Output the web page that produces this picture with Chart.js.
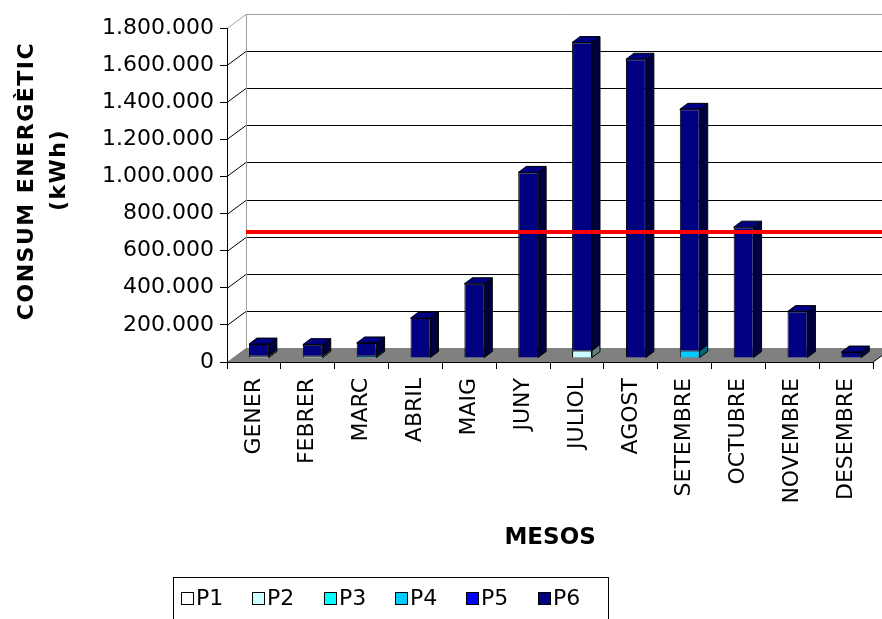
<!DOCTYPE html>
<html>
<head>
<meta charset="utf-8">
<title>Consum energètic mensual</title>
<script src="https://cdn.jsdelivr.net/npm/chart.js@4.4.1/dist/chart.umd.min.js"></script>
<style>
  html, body { margin: 0; padding: 0; background: #ffffff; }
  canvas { display: block; }
</style>
</head>
<body>
<canvas id="consum" width="882" height="619"></canvas>
<script>
// Monthly energy consumption (kWh) split by tariff period P1..P6
const MESOS = ['GENER', 'FEBRER', 'MARC', 'ABRIL', 'MAIG', 'JUNY', 'JULIOL', 'AGOST', 'SETEMBRE', 'OCTUBRE', 'NOVEMBRE', 'DESEMBRE'];
const P1 = [0, 0, 0, 0, 0, 0, 0, 0, 0, 0, 0, 0];
const P2 = [12000, 12000, 0, 0, 0, 0, 40000, 0, 0, 0, 0, 0];
const P3 = [0, 0, 0, 0, 0, 0, 0, 0, 0, 0, 0, 0];
const P4 = [0, 0, 12000, 0, 0, 0, 0, 0, 40000, 0, 0, 0];
const P5 = [0, 0, 0, 0, 0, 0, 0, 0, 0, 0, 0, 0];
const P6 = [63000, 60000, 69000, 215000, 400000, 1000000, 1660000, 1610000, 1300000, 705000, 250000, 32000];
const PERIODES = ['P1', 'P2', 'P3', 'P4', 'P5', 'P6'];
const SERIES = [P1, P2, P3, P4, P5, P6];
// Monthly average consumption (red reference line)
const MITJANA = 625000;
const Y_MAX = 1800000;
const Y_STEP = 200000;

// Styles
const FRONT_COLORS = ['#ffffff', '#ccffff', '#00ffff', '#00ccff', '#0000ff', '#000080'];
const SIDE_COLORS = ['#bfbfbf', '#668080', '#008080', '#006680', '#000080', '#000040'];
const FONT = '"DejaVu Sans", "Liberation Sans", Arial, sans-serif';
const WALL = { dx: 19, dy: -14 };          // depth of back wall relative to front axes
const BAR = { dx: 5, dy: -4, depthX: 8, depthY: -6 }; // bar placement inside the box

function fmtMiles(v) {
  return String(v).replace(/\B(?=(\d{3})+(?!\d))/g, '.');
}

// Back wall, floor, side-wall gridlines, 3D bar faces, average line, titles and legend
const box3d = {
  id: 'box3d',
  beforeDraw(chart) {
    const { ctx, chartArea: a, scales: { y } } = chart;
    const y0 = y.getPixelForValue(0);
    ctx.save();
    // floor
    ctx.fillStyle = '#808080';
    ctx.beginPath();
    ctx.moveTo(a.left, y0);
    ctx.lineTo(a.right, y0);
    ctx.lineTo(a.right + WALL.dx, y0 + WALL.dy);
    ctx.lineTo(a.left + WALL.dx, y0 + WALL.dy);
    ctx.closePath();
    ctx.fill();
    // gridlines
    ctx.lineWidth = 1;
    y.ticks.forEach(t => {
      if (t.value === 0) return;
      const py = Math.round(y.getPixelForValue(t.value)) + 0.5;
      ctx.strokeStyle = t.value >= Y_MAX ? '#a0a0a0' : '#000000';
      ctx.beginPath();
      ctx.moveTo(a.left, py);
      ctx.lineTo(a.left + WALL.dx, py + WALL.dy);
      ctx.lineTo(chart.width + 20, py + WALL.dy);
      ctx.stroke();
    });
    // back edge of the left wall
    const xb = a.left + WALL.dx + 0.5;
    ctx.strokeStyle = '#a0a0a0';
    ctx.beginPath();
    ctx.moveTo(xb, Math.round(y.getPixelForValue(Y_MAX)) + WALL.dy);
    ctx.lineTo(xb, y0 + WALL.dy);
    ctx.stroke();
    // right edge of the floor
    ctx.strokeStyle = '#000000';
    ctx.beginPath();
    ctx.moveTo(a.right, y0);
    ctx.lineTo(a.right + WALL.dx, y0 + WALL.dy);
    ctx.stroke();
    ctx.restore();
  },
  beforeDatasetsDraw(chart) {
    chart.ctx.save();
    chart.ctx.translate(BAR.dx, BAR.dy);
  },
  afterDatasetsDraw(chart) {
    const ctx = chart.ctx;
    const datasets = chart.data.datasets;
    ctx.lineWidth = 1;
    ctx.strokeStyle = '#000000';
    ctx.lineJoin = 'round';
    for (let j = 0; j < MESOS.length; j++) {
      let topIdx = -1;
      datasets.forEach((ds, i) => { if (ds.data[j] > 0) topIdx = i; });
      datasets.forEach((ds, i) => {
        const el = chart.getDatasetMeta(i).data[j];
        if (!el) return;
        const { x, y, base, width } = el.getProps(['x', 'y', 'base', 'width'], true);
        if (base - y < 0.5) return;
        const l = x - width / 2, r = x + width / 2;
        // side face
        ctx.beginPath();
        ctx.moveTo(r, base);
        ctx.lineTo(r, y);
        ctx.lineTo(r + BAR.depthX, y + BAR.depthY);
        ctx.lineTo(r + BAR.depthX, base + BAR.depthY);
        ctx.closePath();
        ctx.fillStyle = SIDE_COLORS[i];
        ctx.fill();
        ctx.stroke();
        // top face
        if (i === topIdx) {
          ctx.beginPath();
          ctx.moveTo(l, y);
          ctx.lineTo(l + BAR.depthX, y + BAR.depthY);
          ctx.lineTo(r + BAR.depthX, y + BAR.depthY);
          ctx.lineTo(r, y);
          ctx.closePath();
          ctx.fillStyle = FRONT_COLORS[i];
          ctx.fill();
          ctx.stroke();
        }
      });
    }
    ctx.restore();

    // average line on the back wall
    const { chartArea: a, scales: { y } } = chart;
    const py = y.getPixelForValue(MITJANA) + WALL.dy;
    ctx.save();
    ctx.strokeStyle = '#ff0000';
    ctx.lineWidth = 4;
    ctx.beginPath();
    ctx.moveTo(a.left + WALL.dx, py);
    ctx.lineTo(chart.width, py);
    ctx.stroke();
    ctx.restore();
  },
  afterDraw(chart) {
    const ctx = chart.ctx;
    ctx.save();
    // vertical axis title
    ctx.fillStyle = '#000000';
    ctx.font = 'bold 22px ' + FONT;
    ctx.textAlign = 'center';
    ctx.textBaseline = 'middle';
    if ('letterSpacing' in ctx) ctx.letterSpacing = '1.5px';
    [['CONSUM ENERGÈTIC', 27, 181], ['(kWh)', 59, 170]].forEach(([txt, tx, ty]) => {
      ctx.save();
      ctx.translate(tx, ty);
      ctx.rotate(-Math.PI / 2);
      ctx.fillText(txt, 0, 0);
      ctx.restore();
    });
    if ('letterSpacing' in ctx) ctx.letterSpacing = '0px';
    // legend
    const lx = 173, ly = 577, lw = 435, lh = 50;
    ctx.strokeStyle = '#000000';
    ctx.lineWidth = 1;
    ctx.strokeRect(lx + 0.5, ly + 0.5, lw, lh);
    ctx.font = '22px ' + FONT;
    ctx.textAlign = 'left';
    ctx.textBaseline = 'middle';
    PERIODES.forEach((p, i) => {
      const bx = Math.round(181 + i * 71.3);
      ctx.fillStyle = FRONT_COLORS[i];
      ctx.fillRect(bx + 0.5, 592.5, 12, 12);
      ctx.strokeRect(bx + 0.5, 592.5, 12, 12);
      ctx.fillStyle = '#000000';
      ctx.fillText(p, bx + 15, 599);
    });
    ctx.restore();
  }
};

const ctx = document.getElementById('consum').getContext('2d');
new Chart(ctx, {
  type: 'bar',
  data: {
    labels: MESOS,
    datasets: SERIES.map((vals, i) => ({
      label: PERIODES[i],
      data: vals,
      backgroundColor: FRONT_COLORS[i],
      borderColor: '#000000',
      borderWidth: 1,
      categoryPercentage: 1,
      barPercentage: 0.37,
      clip: false
    }))
  },
  options: {
    responsive: false,
    animation: false,
    devicePixelRatio: 1,
    layout: { padding: { left: 0, right: 7, top: 28, bottom: 63 } },
    plugins: {
      legend: { display: false },
      tooltip: { enabled: false }
    },
    scales: {
      x: {
        stacked: true,
        grid: { display: true, drawOnChartArea: false, drawTicks: true, tickLength: 7, color: '#000000', offset: true },
        border: { display: true, color: '#000000', width: 1 },
        ticks: { maxRotation: 90, minRotation: 90, autoSkip: false, padding: 9, color: '#000000', font: { family: FONT, size: 22 } },
        title: { display: true, text: 'MESOS', color: '#000000', font: { family: FONT, size: 23, weight: 'bold' }, padding: { top: 4, bottom: 4 } },
        afterFit(s) { s.height = 194; }
      },
      y: {
        stacked: true,
        min: 0,
        max: Y_MAX,
        grid: { display: true, drawOnChartArea: false, drawTicks: true, tickLength: 7, color: '#000000' },
        border: { display: true, color: '#000000', width: 1 },
        ticks: { stepSize: Y_STEP, padding: 6, color: '#000000', font: { family: FONT, size: 22 }, callback: v => fmtMiles(v) },
        afterFit(s) { s.width = 227; }
      }
    }
  },
  plugins: [box3d]
});
</script>
</body>
</html>
